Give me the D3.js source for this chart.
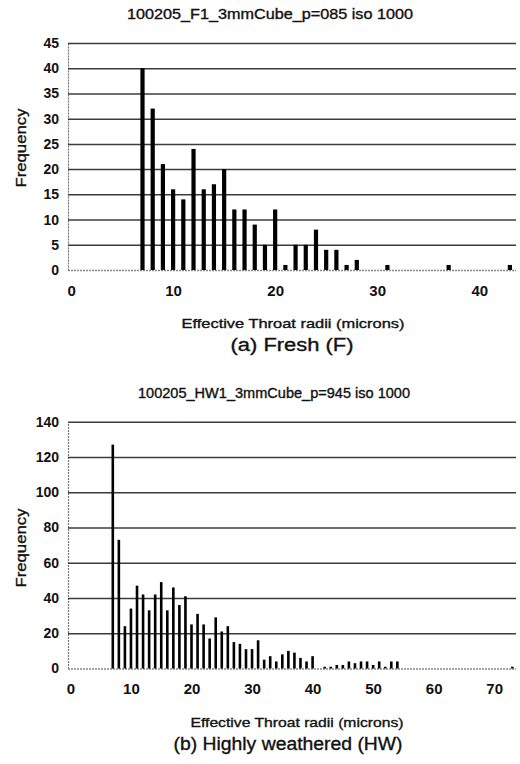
<!DOCTYPE html>
<html>
<head>
<meta charset="utf-8">
<title>Throat radii histograms</title>
<script src="https://cdnjs.cloudflare.com/ajax/libs/d3/7.8.5/d3.min.js"></script>
<style>
  body { margin: 0; background: #fff; }
  svg { display: block; font-family: Arial, "Liberation Sans", sans-serif; }
  .thick { stroke: #111; stroke-width: 0.35px; }
</style>
</head>
<body>
<svg id="chart" width="520" height="764"></svg>
<script>
// (a) Fresh
var freshRadius = [7, 8, 9, 10, 11, 12, 13, 14, 15, 16, 17, 18, 19, 20, 21, 22, 23, 24, 25, 26, 27, 28, 31, 37, 43];
var freshFreq   = [40, 32, 21, 16, 14, 24, 16, 17, 20, 12, 12, 9, 5, 12, 1, 5, 5, 8, 4, 4, 1, 2, 1, 1, 1];
var freshYTicks = [0, 5, 10, 15, 20, 25, 30, 35, 40, 45];
var freshXTicks = [0, 10, 20, 30, 40];

// (b) Highly weathered
var hwRadius = [7, 8, 9, 10, 11, 12, 13, 14, 15, 16, 17, 18, 19, 20, 21, 22, 23, 24, 25, 26, 27, 28, 29, 30,
                31, 32, 33, 34, 35, 36, 37, 38, 39, 40, 42, 43, 44, 45, 46, 47, 48, 49, 50, 51, 52, 53, 54, 73];
var hwFreq   = [127, 73, 24, 34, 47, 42, 33, 42, 49, 33, 46, 36, 41, 25, 31, 25, 17, 29, 21, 24, 15, 14, 11, 11,
                16, 5, 7, 4, 8, 10, 9, 6, 4, 7, 1, 1, 2, 2, 4, 3, 4, 4, 2, 4, 1, 4, 4, 1];
var hwYTicks = [0, 20, 40, 60, 80, 100, 120, 140];
var hwXTicks = [0, 10, 20, 30, 40, 50, 60, 70];

var svg = d3.select("#chart");

function drawPanel(p) {
    var g = svg.append("g");

    var x = d3.scaleLinear().domain(p.xDomain).range([68, 516]);
    var y = d3.scaleLinear().domain([0, p.yTicks[p.yTicks.length - 1]]).range([p.bottom, p.top]);

    // gridlines + y labels
    var yAxis = g.append("g")
        .attr("transform", "translate(68,0)")
        .call(d3.axisLeft(y).tickValues(p.yTicks).tickSizeInner(-448).tickSizeOuter(0).tickPadding(9));
    yAxis.select(".domain").attr("stroke", "#777").attr("stroke-width", 1.2).attr("stroke-dasharray", "2,1");
    yAxis.selectAll(".tick line").attr("stroke", "#3c3c3c").attr("stroke-width", 1.5);
    yAxis.selectAll(".tick line").filter(function(d) { return d === 0; })
        .attr("stroke", "#888").attr("stroke-dasharray", "2,1");
    yAxis.selectAll(".tick text").attr("font-size", 14).attr("font-weight", "bold").attr("fill", "#111");

    // x labels
    var xAxis = g.append("g")
        .attr("transform", "translate(0," + p.bottom + ")")
        .call(d3.axisBottom(x).tickValues(p.xTicks).tickSize(0).tickPadding(15));
    xAxis.select(".domain").remove();
    xAxis.selectAll(".tick text").attr("font-size", 15).attr("font-weight", "bold").attr("fill", "#111");

    // bars
    g.selectAll("rect.bar").data(p.radius)
        .join("rect")
        .attr("class", "bar")
        .attr("x", function(d) { return x(d) - p.barW / 2; })
        .attr("width", p.barW)
        .attr("y", function(d, i) { return y(p.freq[i]); })
        .attr("height", function(d, i) { return y(0) - y(p.freq[i]); })
        .attr("fill", "#000");

    // texts
    g.append("text").text(p.title)
        .attr("class", "thick")
        .attr("x", p.titleX).attr("y", p.top - 24)
        .attr("text-anchor", "middle").attr("font-size", 14).attr("fill", "#111")
        .attr("textLength", p.titleLen).attr("lengthAdjust", "spacingAndGlyphs");

    g.append("text").text("Frequency")
        .attr("class", "thick")
        .attr("transform", "translate(26," + p.freqY + ") rotate(-90)")
        .attr("text-anchor", "middle").attr("font-size", 14).attr("fill", "#111")
        .attr("textLength", 79).attr("lengthAdjust", "spacingAndGlyphs");

    g.append("text").text("Effective Throat radii (microns)")
        .attr("class", "thick")
        .attr("x", p.axisX).attr("y", p.bottom + 58)
        .attr("text-anchor", "middle").attr("font-size", 13).attr("fill", "#111")
        .attr("textLength", p.axisLen).attr("lengthAdjust", "spacingAndGlyphs");

    g.append("text").text(p.caption)
        .attr("class", "thick")
        .attr("x", p.capX).attr("y", p.bottom + 81)
        .attr("text-anchor", "middle").attr("font-size", 18).attr("fill", "#111")
        .attr("textLength", p.capLen).attr("lengthAdjust", "spacingAndGlyphs");
}

drawPanel({
    radius: freshRadius, freq: freshFreq, yTicks: freshYTicks, xTicks: freshXTicks,
    xDomain: [-0.3, 43.6], top: 43, bottom: 270, barW: 4.2,
    title: "100205_F1_3mmCube_p=085 iso 1000", titleX: 270, titleLen: 286,
    freqY: 148, axisX: 293, axisLen: 223, caption: "(a) Fresh (F)", capX: 292, capLen: 123
});

drawPanel({
    radius: hwRadius, freq: hwFreq, yTicks: hwYTicks, xTicks: hwXTicks,
    xDomain: [-0.4, 73.6], top: 421.7, bottom: 668.5, barW: 2.6,
    title: "100205_HW1_3mmCube_p=945 iso 1000", titleX: 274, titleLen: 272,
    freqY: 548, axisX: 297, axisLen: 213, caption: "(b) Highly weathered (HW)", capX: 288, capLen: 229
});
</script>
</body>
</html>
